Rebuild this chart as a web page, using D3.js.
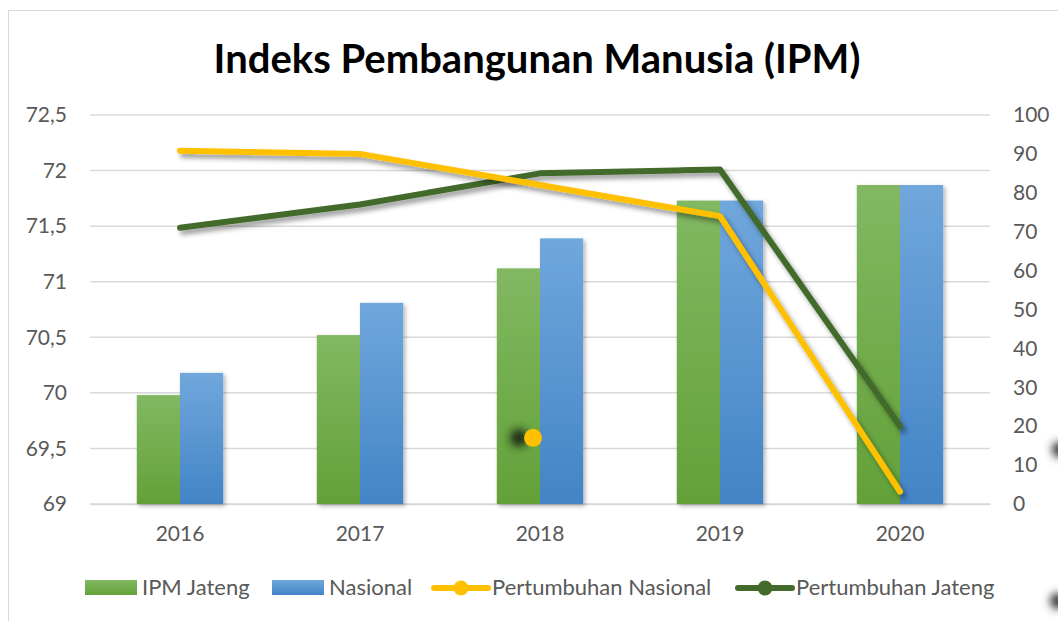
<!DOCTYPE html>
<html>
<head>
<meta charset="utf-8">
<script src="https://cdn.jsdelivr.net/npm/d3@7"></script>
<style>
  body { margin: 0; background: #fff; }
  svg { display: block; font-family: "Lato", "Carlito", sans-serif; }
</style>
</head>
<body>
<svg width="1058" height="621"></svg>
<script>
// data
var years = ["2016", "2017", "2018", "2019", "2020"];
var ipmJateng = [69.98, 70.52, 71.12, 71.73, 71.87];
var ipmNasional = [70.18, 70.81, 71.39, 71.73, 71.87];
var tumbuhNasional = [90.8, 90.0, 82.0, 74.0, 3.2];
var tumbuhJateng = [71.0, 77.0, 85.0, 86.0, 20.0];
var leftTicks = [69, 69.5, 70, 70.5, 71, 71.5, 72, 72.5];
var rightTicks = [0, 10, 20, 30, 40, 50, 60, 70, 80, 90, 100];

var svg = d3.select("svg"),
  width = +svg.attr("width"),
  height = +svg.attr("height");

var koma = d3.formatLocale({decimal: ",", thousands: ".", grouping: [3], currency: ["Rp", ""]});
var fmt = function(d) { return koma.format("~g")(d); };

var pLeft = 90, pRight = 990, pTop = 115, pBottom = 504;

var x0 = d3.scaleBand().domain(years).range([pLeft, pRight]).paddingInner(0.52).paddingOuter(0.26);
var x1 = d3.scaleBand().domain(["jateng", "nasional"]).range([0, x0.bandwidth()]);
var yL = d3.scaleLinear().domain([69, 72.5]).range([pBottom, pTop]);
var yR = d3.scaleLinear().domain([0, 100]).range([pBottom, pTop]);

var defs = svg.append("defs");
function grad(id, c1, c2) {
  var g = defs.append("linearGradient").attr("id", id).attr("x1", 0).attr("x2", 0).attr("y1", 0).attr("y2", 1);
  g.append("stop").attr("offset", "0%").attr("stop-color", c1);
  g.append("stop").attr("offset", "100%").attr("stop-color", c2);
}
grad("gGreen", "#82b862", "#63a138");
grad("gBlue", "#70a7dc", "#4384c6");

function shadow(id, dx, dy, sd, op) {
  var f = defs.append("filter").attr("id", id).attr("x", "-20%").attr("y", "-20%").attr("width", "140%").attr("height", "140%");
  f.append("feDropShadow").attr("dx", dx).attr("dy", dy).attr("stdDeviation", sd)
    .attr("flood-color", "#000").attr("flood-opacity", op);
}
shadow("shBar", 2, 2, 2, 0.3);
shadow("shLine", 3, 4, 2.5, 0.4);
defs.append("filter").attr("id", "blur").attr("x", "-100%").attr("y", "-100%").attr("width", "300%").attr("height", "300%")
  .append("feGaussianBlur").attr("stdDeviation", 4);

// chart border
svg.append("rect").attr("x", 8.5).attr("y", 10.5).attr("width", 1100).attr("height", 700)
  .attr("fill", "none").attr("stroke", "#d9d9d9").attr("stroke-width", 1);

// title
svg.append("text").attr("x", 537).attr("y", 73).attr("text-anchor", "middle")
  .attr("font-size", 40).attr("font-weight", "bold").attr("fill", "#000")
  .text("Indeks Pembangunan Manusia (IPM)");

// gridlines
svg.append("g").selectAll("line").data(leftTicks).enter().append("line")
  .attr("x1", pLeft).attr("x2", pRight)
  .attr("y1", function(d) { return yL(d); }).attr("y2", function(d) { return yL(d); })
  .attr("stroke", "#d9d9d9").attr("stroke-width", 1.5);

// left axis
var axL = svg.append("g").attr("transform", "translate(" + pLeft + ",0)")
  .call(d3.axisLeft(yL).tickValues(leftTicks).tickFormat(fmt).tickSize(0).tickPadding(23));
axL.select(".domain").remove();
axL.selectAll("text").attr("font-size", 21).attr("fill", "#595959").attr("font-family", "Lato, Carlito, sans-serif");

// right axis
var axR = svg.append("g").attr("transform", "translate(" + pRight + ",0)")
  .call(d3.axisRight(yR).tickValues(rightTicks).tickSize(0).tickPadding(23));
axR.select(".domain").remove();
axR.selectAll("text").attr("font-size", 21).attr("fill", "#595959").attr("font-family", "Lato, Carlito, sans-serif");

// bottom axis
var axB = svg.append("g").attr("transform", "translate(0," + pBottom + ")")
  .call(d3.axisBottom(x0).tickSize(0).tickPadding(22));
axB.select(".domain").attr("stroke", "#d9d9d9").attr("stroke-width", 1.5);
axB.selectAll("text").attr("font-size", 21).attr("fill", "#595959").attr("font-family", "Lato, Carlito, sans-serif");

// bars
var rows = years.map(function(y, i) { return {year: y, jateng: ipmJateng[i], nasional: ipmNasional[i]}; });
var fills = {jateng: "url(#gGreen)", nasional: "url(#gBlue)"};
svg.append("g").attr("filter", "url(#shBar)")
  .selectAll("g").data(rows).enter().append("g")
  .attr("transform", function(d) { return "translate(" + x0(d.year) + ",0)"; })
  .selectAll("rect").data(function(d) { return ["jateng", "nasional"].map(function(k) { return {key: k, v: d[k]}; }); })
  .enter().append("rect")
  .attr("x", function(d) { return x1(d.key); })
  .attr("width", x1.bandwidth())
  .attr("y", function(d) { return yL(d.v); })
  .attr("height", function(d) { return yL(69) - yL(d.v); })
  .attr("fill", function(d) { return fills[d.key]; });

// lines
var line = d3.line()
  .x(function(d, i) { return x0(years[i]) + x0.bandwidth() / 2; })
  .y(function(d) { return yR(d); });

svg.append("path").datum(tumbuhJateng).attr("d", line)
  .attr("fill", "none").attr("stroke", "#426a2b").attr("stroke-width", 6)
  .attr("stroke-linecap", "round").attr("stroke-linejoin", "round").attr("filter", "url(#shLine)");
svg.append("path").datum(tumbuhNasional).attr("d", line)
  .attr("fill", "none").attr("stroke", "#ffc000").attr("stroke-width", 6)
  .attr("stroke-linecap", "round").attr("stroke-linejoin", "round").attr("filter", "url(#shLine)");

// stray markers seen in the picture
var cx18 = x0("2018") + x0.bandwidth() / 2;
svg.append("circle").attr("cx", cx18 - 21).attr("cy", yR(17)).attr("r", 9)
  .attr("fill", "#1e2a12").attr("filter", "url(#blur)");
svg.append("circle").attr("cx", cx18 - 7).attr("cy", yR(17)).attr("r", 9).attr("fill", "#ffc000");
svg.append("circle").attr("cx", width + 2).attr("cy", yR(14)).attr("r", 8)
  .attr("fill", "#333").attr("filter", "url(#blur)");
svg.append("circle").attr("cx", width).attr("cy", 601).attr("r", 8)
  .attr("fill", "#333").attr("filter", "url(#blur)");

// legend
var legend = [
  {name: "IPM Jateng", type: "bar", color: "url(#gGreen)", x: 85},
  {name: "Nasional", type: "bar", color: "url(#gBlue)", x: 272},
  {name: "Pertumbuhan Nasional", type: "line", color: "#ffc000", x: 432},
  {name: "Pertumbuhan Jateng", type: "line", color: "#426a2b", x: 736}
];
var ly = 588;
var lg = svg.append("g").selectAll("g").data(legend).enter().append("g")
  .attr("transform", function(d) { return "translate(" + d.x + "," + ly + ")"; });
lg.filter(function(d) { return d.type === "bar"; }).append("rect")
  .attr("x", 0).attr("y", -8).attr("width", 52).attr("height", 15).attr("fill", function(d) { return d.color; });
lg.filter(function(d) { return d.type === "line"; }).append("line")
  .attr("x1", 2).attr("x2", 56).attr("y1", 0).attr("y2", 0)
  .attr("stroke", function(d) { return d.color; }).attr("stroke-width", 6).attr("stroke-linecap", "round");
lg.filter(function(d) { return d.type === "line"; }).append("circle")
  .attr("cx", 29).attr("cy", 0).attr("r", 7.5).attr("fill", function(d) { return d.color; });
lg.append("text")
  .attr("x", function(d) { return d.type === "bar" ? 57 : 60; })
  .attr("y", 7).attr("font-size", 22).attr("fill", "#595959")
  .text(function(d) { return d.name; });
</script>
</body>
</html>
